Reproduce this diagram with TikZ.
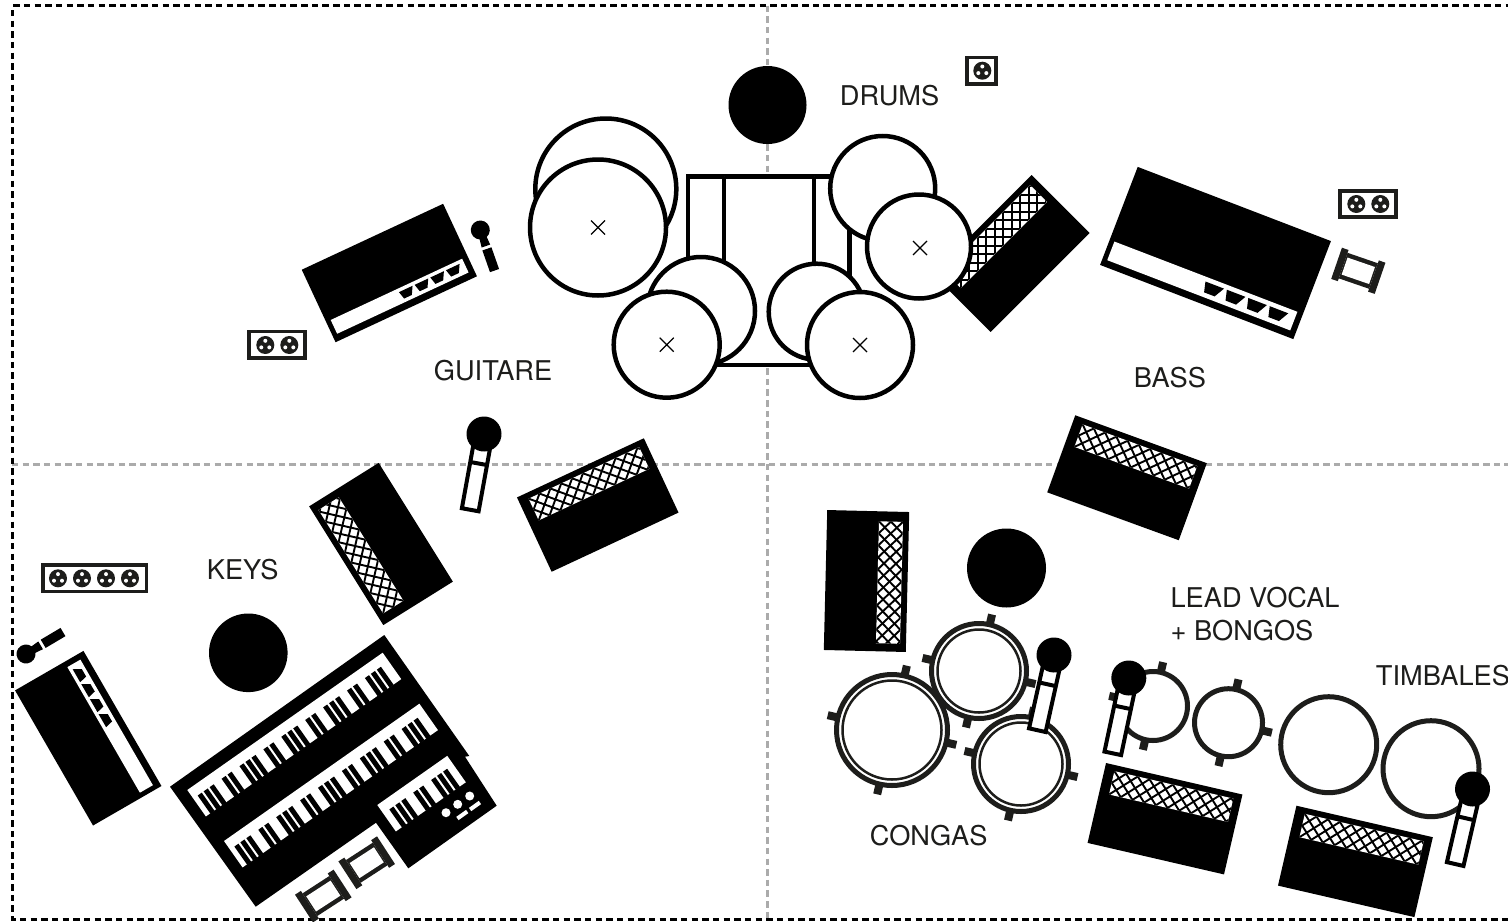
\documentclass[tikz,border=0pt]{standalone}
\usepackage{fontspec}
\setmainfont{TeX Gyre Heros}
\definecolor{inkdark}{HTML}{1D1D1B}
\definecolor{gridgrey}{HTML}{ABABAB}
\tikzset{
  bandlabel/.style={text=inkdark,inner sep=0pt,anchor=base west,font=\fontsize{13.6}{16.7}\selectfont},
  stageedge/.style={draw=black,line width=1.5pt,dash pattern=on 3.2pt off 2.13pt},
  stagegrid/.style={draw=gridgrey,line width=1.5pt,dash pattern=on 3.2pt off 2.13pt},
  drumline/.style={draw=black,fill=white,line width=2.25pt},
  ringline/.style={draw=inkdark,fill=white,line width=2.5pt},
  socketline/.style={draw=inkdark,fill=white,line width=1.75pt},
  meshline/.style={draw=black,line width=0.95pt},
}
\def\longkeys{1,2,3,5,6,8,9,10,12,13,15,16,17,19,20,22,23,24,26,27,29,30,31}
\def\shortkeys{1,2,3,5,6,8,9,10}
\newcommand{\gridamp}[3]{%
  \begin{scope}[shift={(#1,#2)},rotate=#3]
    \fill[black] (-70,-41) rectangle (70,41);
    \fill[white] (-60,-35) rectangle (62,-11);
    \begin{scope}
      \clip (-60,-35) rectangle (62,-11);
      \foreach \i in {-84,-72,...,84} {
        \draw[meshline] (\i-12,-35) -- (\i+12,-11);
        \draw[meshline] (\i+12,-35) -- (\i-12,-11);
      }
    \end{scope}
  \end{scope}}
\newcommand{\headamp}[5]{%
  \begin{scope}[shift={(#1,#2)},rotate=#3]
    \pgfmathsetmacro\hw{#4/2}
    \pgfmathsetmacro\hh{#5/2}
    \pgfmathsetmacro\ks{#4/156}
    \pgfmathsetmacro\st{\hh-7-0.19*#5}
    \pgfmathsetmacro\ky{\st+0.095*#5}
    \fill[black] (-\hw,-\hh) rectangle (\hw,\hh);
    \fill[white] (-\hw+5,\st) rectangle (\hw-6,\hh-7);
    \foreach \n in {0,1,2,3} {
      \pgfmathsetmacro\kx{\hw-(18+17.3*\n)*\ks}
      \fill[black] (\kx-7.5*\ks,\ky-4*\ks) -- (\kx+7.5*\ks,\ky-4*\ks)
        -- (\kx+3*\ks,\ky+4*\ks) -- (\kx-5.5*\ks,\ky+4*\ks) -- cycle;
    }
  \end{scope}}
\newcommand{\bigmic}[3]{%
  \begin{scope}[shift={(#1,#2)},rotate=#3]
    \draw[draw=black,fill=white,line width=2pt] (-8.5,8) rectangle (8.5,77);
    \draw[black,line width=2pt] (-8.5,30) -- (8.5,30);
    \fill[black] (0,0) circle (17.5);
  \end{scope}}
\newcommand{\smallmic}[3]{%
  \begin{scope}[shift={(#1,#2)},rotate=#3]
    \fill[black] (-3,0) -- (3,0) -- (4.5,17) -- (-4.5,17) -- cycle;
    \fill[black] (-4.8,20) rectangle (4.8,43);
    \fill[black] (0,0) circle (9.5);
  \end{scope}}
\newcommand{\jack}[2]{%
  \begin{scope}[shift={(#1,#2)}]
    \fill[inkdark] (0,0) circle (9);
    \fill[white] (0,-4.2) circle (2) (-4,2.4) circle (2) (4,2.4) circle (2);
  \end{scope}}
\newcommand{\dibox}[3]{%
  \begin{scope}[shift={(#1,#2)},rotate=#3]
    \fill[inkdark] (-23,-16.5) rectangle (-16,16.5) (16,-16.5) rectangle (23,16.5);
    \fill[inkdark] (-16,-13.5) rectangle (16,13.5);
    \fill[white] (-14.5,-9) rectangle (14.5,9);
  \end{scope}}
\newcommand{\lugdrum}[5]{%
  \foreach \a in {#4} {
    \begin{scope}[shift={(#1,#2)},rotate=\a]
      \fill[inkdark] (#3-4,-4) rectangle (#3+8,4);
    \end{scope}
  }
  \draw[ringline] (#1,#2) circle (#3-2.5);
  #5}
\newcommand{\keystrip}[6]{%
  \begin{scope}[shift={(#1,#2)},rotate=#3]
    \fill[white] (0,0) rectangle (#4,32.3);
    \foreach \k in #6 {
      \pgfmathsetmacro\kx{#5+7.3*\k}
      \fill[black] (\kx-2.5,10.5) rectangle (\kx+2.5,32.8);
    }
  \end{scope}}
\begin{document}
\begin{tikzpicture}[x=0.5pt,y=-0.5pt,line cap=butt,line join=miter]
  \useasboundingbox (0,0) rectangle (1508,921);
  \fill[white] (0,0) rectangle (1508,921);
  \draw[stagegrid] (767,5.7) -- (767,919);
  \draw[stagegrid] (12,464) -- (1508,464);
  \draw[stageedge] (13.3,5.7) -- (1508,5.7);
  \draw[stageedge] (12.3,10) -- (12.3,919) -- (1508,919);

  \draw[socketline] (41.3+1.5,563.7+1.5) rectangle (148-1.5,593-1.5);
  \draw[socketline] (247.3+1.5,330+1.5) rectangle (306.7-1.5,359.3-1.5);
  \draw[socketline] (1338.3+1.5,189.3+1.5) rectangle (1397.3-1.5,218.7-1.5);
  \draw[socketline] (965.7+1.5,56+1.5) rectangle (997.7-1.5,85.3-1.5);
  \foreach \x in {58,82,106,130} {\jack{\x}{578.3}}
  \jack{265.3}{345}
  \jack{289.3}{345}
  \jack{1356.3}{204}
  \jack{1380.3}{204}
  \jack{982.3}{70.7}

  \fill[black] (767.5,105) circle (39);
  \fill[black] (248.3,652.8) circle (39.3);
  \fill[black] (1006.5,568) circle (39.5);

  \gridamp{1011}{253.5}{45}
  \gridamp{597.75}{505}{25}
  \gridamp{1127}{477.75}{-20}
  \gridamp{381}{544}{122}
  \gridamp{866.5}{581}{-91.4}
  \gridamp{1165}{818.7}{-13}
  \gridamp{1355.4}{861.4}{-13}
  \headamp{389.35}{273}{25}{156}{80}
  \headamp{1215.5}{253}{-21}{207}{105}
  \headamp{88.25}{738.2}{120}{156}{79}

  \draw[drumline] (688,176.7) rectangle (849.3,365);
  \draw[drumline] (724,176.7) -- (724,300);
  \draw[drumline] (814,176.7) -- (814,300);
  \draw[drumline] (605.8,189) circle (70.5);
  \draw[drumline] (598,227.5) circle (68);
  \draw[drumline] (701,311) circle (54);
  \draw[drumline] (666.7,344.7) circle (53);
  \draw[drumline] (816.7,311.7) circle (48);
  \draw[drumline] (860,345) circle (53);
  \draw[drumline] (882.7,188.5) circle (52.5);
  \draw[drumline] (919,246.5) circle (52);
  \foreach \x/\y in {598/227.5,666.7/344.7,860/345,920/248} {
    \draw[black,line width=0.6pt] (\x-7,\y-7) -- (\x+7,\y+7) (\x-7,\y+7) -- (\x+7,\y-7);
  }

  \fill[black] (170,786.7) -- (384.3,635) -- (469.3,756) -- (465,756.7) -- (496.7,805.7)
    -- (408.3,868.3) -- (376,822.7) -- (255.7,906.7) -- cycle;
  \keystrip{187.3}{790}{35.1}{238.8}{0.5}{\longkeys}
  \keystrip{224}{841}{35.1}{238.8}{0.5}{\longkeys}
  \keystrip{377.3}{805}{35.1}{85.5}{2.5}{\shortkeys}
  \fill[white] (446,812.7) circle (4.5) (457.7,804.3) circle (4.5) (469.7,796) circle (4.5);
  \draw[white,line width=2pt] (457.4,818.5) -- (467.2,811.5);
  \draw[white,line width=2pt] (470.1,809.5) -- (479.9,802.5);
  \dibox{366.7}{862.7}{33}
  \dibox{323.3}{896}{33}
  \dibox{1358.3}{270.8}{-19}

  \lugdrum{892}{730}{58}{77,167,257,347}{\draw[inkdark,line width=1.25pt] (892,730) circle (49.5);}
  \lugdrum{979}{671}{50}{77,167,257,347}{\draw[inkdark,line width=1.25pt] (979,671) circle (41.5);}
  \lugdrum{1021}{764}{50}{77,167,257,347}{\draw[inkdark,line width=1.25pt] (1021,764) circle (41.5);}
  \lugdrum{1153}{706}{37}{77,167,257}{}
  \lugdrum{1228.5}{722.7}{36.5}{77,257,347}{}
  \draw[ringline] (1328.7,744.7) circle (48);
  \draw[ringline] (1431,768.7) circle (48);

  \smallmic{480.3}{230}{19.3}
  \smallmic{26}{654}{120.7}
  \bigmic{484}{434}{-10.3}
  \bigmic{1054}{655}{-12.5}
  \bigmic{1128.8}{678}{-12}
  \bigmic{1472.5}{789}{-13}

  \node[bandlabel] (drums) at (839.5,105) {DRUMS};
  \node[bandlabel] (guitare) at (433.5,380) {GUITARE};
  \node[bandlabel] (bass) at (1133.5,387) {BASS};
  \node[bandlabel] (keys) at (206.5,579) {KEYS};
  \node[bandlabel,anchor=west,align=left] (lead) at (1170.2,614) {LEAD VOCAL\\+ BONGOS};
  \node[bandlabel] (timbales) at (1375.5,685) {TIMBALES};
  \node[bandlabel] (congas) at (869.5,845) {CONGAS};
\end{tikzpicture}
\end{document}
